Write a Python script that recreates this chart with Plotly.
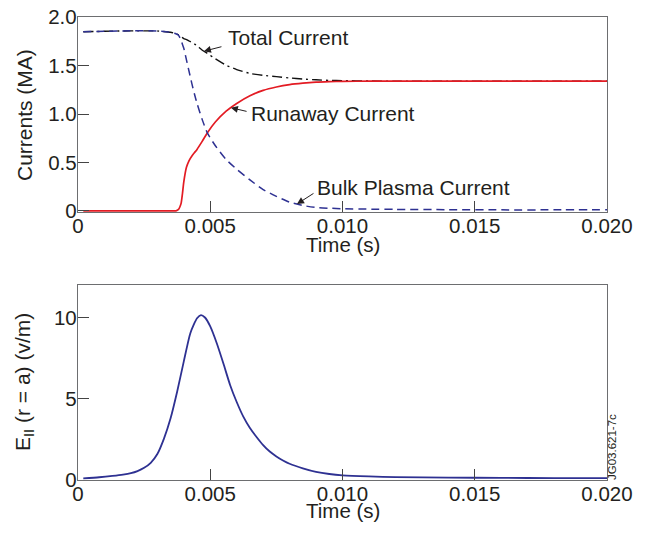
import numpy as np
import plotly.graph_objects as go

# ---------------- data ----------------
t_cur = [0.0002, 0.001, 0.002, 0.003, 0.0035, 0.0037, 0.0038, 0.00385, 0.0039,
         0.00395, 0.004, 0.0041, 0.0042, 0.0043, 0.0044, 0.0045, 0.0047, 0.0049,
         0.0052, 0.0056, 0.006, 0.0065, 0.007, 0.0075, 0.008, 0.0085, 0.009,
         0.0095, 0.010, 0.011, 0.012, 0.014, 0.016, 0.018, 0.020]

total_current = [1.85, 1.855, 1.86, 1.858, 1.845, 1.83, 1.82, 1.81, 1.80,
                 1.79, 1.78, 1.77, 1.755, 1.74, 1.725, 1.705, 1.66, 1.625,
                 1.57, 1.505, 1.46, 1.42, 1.40, 1.387, 1.373, 1.362, 1.354,
                 1.348, 1.345, 1.342, 1.34, 1.34, 1.34, 1.34, 1.34]

runaway_current = [0.0, 0.0, 0.0, 0.0, 0.0, 0.0, 0.015, 0.04, 0.08,
                   0.18, 0.30, 0.45, 0.52, 0.565, 0.60, 0.635, 0.72, 0.81,
                   0.92, 1.03, 1.11, 1.19, 1.245, 1.28, 1.305, 1.32, 1.33,
                   1.335, 1.338, 1.34, 1.34, 1.34, 1.34, 1.34, 1.34]

bulk_current = [1.85, 1.855, 1.86, 1.858, 1.845, 1.83, 1.815, 1.79, 1.76,
                1.72, 1.68, 1.56, 1.44, 1.32, 1.21, 1.11, 0.94, 0.80,
                0.67, 0.53, 0.43, 0.32, 0.22, 0.15, 0.09, 0.055, 0.035,
                0.027, 0.022, 0.018, 0.015, 0.012, 0.01, 0.01, 0.01]

t_field = [0.0002, 0.0008, 0.0013, 0.0017, 0.002, 0.00225, 0.0025, 0.00275, 0.003,
           0.00325, 0.0035, 0.00375, 0.004, 0.00425, 0.0045, 0.00465, 0.0048, 0.005,
           0.00525, 0.0055, 0.00575, 0.006, 0.00625, 0.0065, 0.00675, 0.007, 0.00725,
           0.0075, 0.00775, 0.008, 0.0085, 0.009, 0.0095, 0.010, 0.011, 0.012,
           0.014, 0.016, 0.018, 0.020]

e_field = [0.1, 0.17, 0.25, 0.33, 0.42, 0.55, 0.75, 1.06, 1.6,
           2.55, 3.8, 5.45, 7.3, 9.05, 9.95, 10.15, 10.0, 9.45,
           8.4, 7.15, 5.85, 4.8, 3.9, 3.2, 2.65, 2.15, 1.75,
           1.45, 1.2, 1.0, 0.72, 0.5, 0.37, 0.29, 0.22, 0.18,
           0.15, 0.13, 0.12, 0.11]

x_tickvals = [0, 0.005, 0.010, 0.015, 0.020]
x_ticktext = ["0", "0.005", "0.010", "0.015", "0.020"]
y1_tickvals = [0, 0.5, 1.0, 1.5, 2.0]
y1_ticktext = ["0", "0.5", "1.0", "1.5", "2.0"]
y2_tickvals = [0, 5, 10]
y2_ticktext = ["0", "5", "10"]

# ---------------- styling ----------------
# The page body keeps its default 8px margin, so the figure is drawn 8px
# smaller than the window and positions are shifted by that offset.
OFF = 8
W, H = 648 - 2 * OFF, 534 - 2 * OFF
FONT = "Liberation Sans, Arial, Helvetica, sans-serif"
TXT = "#231f20"
AXC = "#6d6e70"
RED = "#e31b23"
BLUE = "#2e3192"

def px_x(px):
    return (px - OFF) / W

def px_y(py):
    return 1 - (py - OFF) / H

fig = go.Figure()

fig.add_trace(go.Scatter(x=t_cur, y=total_current, mode="lines", name="Total Current",
                         line=dict(color="#111111", width=1.4, dash="10px,4px,2px,4px",
                                   shape="spline", smoothing=0.6),
                         xaxis="x", yaxis="y"))
fig.add_trace(go.Scatter(x=t_cur, y=runaway_current, mode="lines", name="Runaway Current",
                         line=dict(color=RED, width=1.7, shape="spline", smoothing=0.6),
                         xaxis="x", yaxis="y"))
fig.add_trace(go.Scatter(x=t_cur, y=bulk_current, mode="lines", name="Bulk Plasma Current",
                         line=dict(color=BLUE, width=1.5, dash="8px,5px",
                                   shape="spline", smoothing=0.6),
                         xaxis="x", yaxis="y"))
fig.add_trace(go.Scatter(x=t_field, y=e_field, mode="lines", name="E",
                         line=dict(color=BLUE, width=1.8, shape="spline", smoothing=0.6),
                         xaxis="x2", yaxis="y2"))

x_dom = [px_x(78), px_x(607)]
y1_dom = [px_y(212), px_y(17)]
y2_dom = [px_y(480), px_y(285)]

common_x = dict(tickmode="array", tickvals=x_tickvals, ticktext=x_ticktext,
                range=[0, 0.020], ticks="inside", ticklen=11, tickwidth=1.2,
                tickcolor="#444444", showline=True, linecolor=AXC, linewidth=1.4,
                mirror=True, showgrid=False, zeroline=False, automargin=False,
                ticklabelstandoff=-5, ticklabeloverflow="allow",
                tickfont=dict(family=FONT, size=20.5, color=TXT), domain=x_dom)
common_y = dict(ticks="inside", ticklen=11, tickwidth=1.2, tickcolor="#444444",
                showline=True, linecolor=AXC, linewidth=1.4, mirror=True,
                showgrid=False, zeroline=False, automargin=False,
                ticklabelstandoff=-4, ticklabeloverflow="allow",
                tickfont=dict(family=FONT, size=20.5, color=TXT))

fig.update_layout(
    template="none",
    width=W, height=H,
    margin=dict(l=0, r=0, t=0, b=0, pad=0, autoexpand=False),
    paper_bgcolor="white", plot_bgcolor="white",
    showlegend=False,
    xaxis=dict(anchor="y", **common_x),
    yaxis=dict(anchor="x", domain=y1_dom, range=[-0.012, 2.003], tickmode="array",
               tickvals=y1_tickvals, ticktext=y1_ticktext, **common_y),
    xaxis2=dict(anchor="y2", **common_x),
    yaxis2=dict(anchor="x2", domain=y2_dom, range=[0.0, 12.0], tickmode="array",
                tickvals=y2_tickvals, ticktext=y2_ticktext, **common_y),
)

annots = []
def title_ann(text, px, py, angle=0, size=20.5):
    annots.append(dict(text=text, xref="paper", yref="paper", x=px_x(px), y=px_y(py),
                       xanchor="center", yanchor="middle", showarrow=False,
                       textangle=angle, font=dict(family=FONT, size=size, color=TXT)))

title_ann("Time (s)", 342.5, 244)
title_ann("Time (s)", 342.5, 510)
title_ann("Currents (MA)", 24, 115, angle=-90, size=21)
title_ann("E<sub>II</sub> (r = a) (v/m)", 24, 382, angle=-90, size=21)
title_ann("JG03.621-7c", 612, 447, angle=-90, size=11.5)

def label_ann(text, px, py):
    annots.append(dict(text=text, xref="paper", yref="paper", x=px_x(px), y=px_y(py),
                       xanchor="left", yanchor="middle", showarrow=False,
                       font=dict(family=FONT, size=21, color=TXT)))

label_ann("Total Current", 226, 37)
label_ann("Runaway Current", 249, 113)
label_ann("Bulk Plasma Current", 315, 187)

def arrow_ann(series, t_head, t_tail, v_tail):
    v_head = float(np.interp(t_head, t_cur, series))
    annots.append(dict(text="", x=t_head, y=v_head, ax=t_tail, ay=v_tail,
                       xref="x", yref="y", axref="x", ayref="y", showarrow=True,
                       arrowhead=2, arrowsize=1.4, arrowwidth=1.0, arrowcolor=TXT))

arrow_ann(total_current, 0.00476, 0.00548, 1.70)
arrow_ann(runaway_current, 0.00578, 0.00643, 1.024)
arrow_ann(bulk_current, 0.00828, 0.00896, 0.19)

fig.update_layout(annotations=annots)
fig.write_html("out.html")
